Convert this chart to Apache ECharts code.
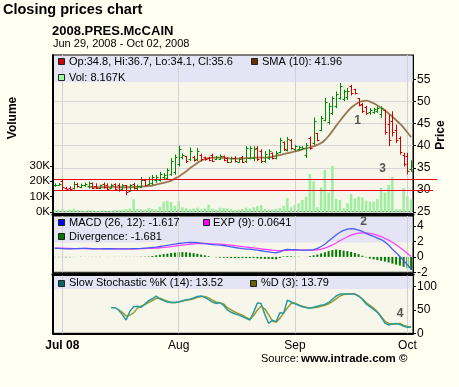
<!DOCTYPE html>
<html>
<head>
<meta charset="utf-8">
<script src="https://cdn.jsdelivr.net/npm/echarts@6.0.0/dist/echarts.min.js"></script>
<style>
html,body{margin:0;padding:0;background:#fffff2;}
#chart{width:459px;height:387px;}
</style>
</head>
<body>
<div id="chart"></div>
<script>
// ---------------- data ----------------
const dates = ['6/29','6/30',
 '7/1','7/2','7/3','7/4','7/5','7/6','7/7','7/8','7/9','7/10','7/11','7/12','7/13','7/14','7/15','7/16','7/17','7/18','7/19','7/20','7/21','7/22','7/23','7/24','7/25','7/26','7/27','7/28','7/29','7/30','7/31',
 '8/1','8/2','8/3','8/4','8/5','8/6','8/7','8/8','8/9','8/10','8/11','8/12','8/13','8/14','8/15','8/16','8/17','8/18','8/19','8/20','8/21','8/22','8/23','8/24','8/25','8/26','8/27','8/28','8/29','8/30','8/31',
 '9/1','9/2','9/3','9/4','9/5','9/6','9/7','9/8','9/9','9/10','9/11','9/12','9/13','9/14','9/15','9/16','9/17','9/18','9/19','9/20','9/21','9/22','9/23','9/24','9/25','9/26','9/27','9/28','9/29','9/30',
 '10/1','10/2'];

const opens = [31.0,31.2,32.0,30.5,30.4,30.4,31.3,30.7,31.0,30.8,
 31.5,30.8,30.4,31.4,31.2,30.4,31.3,31.2,30.2,31.0,
 29.8,31.4,30.4,30.6,32.3,31.3,31.6,32.2,32.2,32.9,
 32.8,33.6,34.0,35.8,37.5,37.6,36.9,37.5,37.0,38.0,
 37.4,37.3,38.0,36.9,36.9,37.6,37.2,36.4,37.3,36.4,
 37.5,36.5,37.3,37.2,39.6,38.8,36.6,37.3,38.3,37.3,
 38.5,40.8,39.0,41.4,39.2,39.3,39.2,37.8,41.8,40.6,
 42.8,43.6,45.8,45.4,47.5,48.9,50.8,50.6,51.0,53.6,
 52.8,50.7,49.5,48.8,47.6,47.6,47.9,47.2,48.0,45.0,
 45.5,43.6,41.8,38.0,37.6,34.8];
const highs = [31.5,31.6,32.4,30.7,30.8,31.9,31.6,31.4,31.6,31.9,
 31.7,31.5,31.2,31.7,31.5,31.4,31.5,31.5,31.3,31.1,
 31.3,31.6,31.2,32.9,32.5,32.9,33.4,33.4,34.1,33.8,
 34.9,37.2,38.0,40.0,38.3,37.7,39.6,37.7,39.5,38.2,
 37.5,37.5,38.2,37.7,38.0,37.8,37.4,37.5,37.6,37.3,
 37.7,39.9,39.9,39.9,39.9,39.2,38.8,39.2,38.5,38.8,
 41.8,41.0,42.0,41.5,40.2,39.9,39.9,40.6,42.1,46.4,
 42.9,46.7,50.8,49.7,51.2,52.3,54.2,52.7,53.1,53.8,
 52.9,50.8,49.7,49.0,48.5,48.6,48.9,48.9,48.2,47.0,
 47.8,44.8,42.1,38.4,38.4,36.7];
const lows = [30.7,30.9,30.0,30.1,30.0,30.1,30.5,30.4,30.7,30.3,
 30.2,30.2,30.2,30.3,29.8,30.3,30.0,29.6,30.0,28.8,
 29.6,30.1,30.0,30.4,30.8,31.0,31.1,31.6,31.9,32.2,
 32.4,33.2,33.4,35.3,36.9,36.1,36.5,36.4,36.5,36.5,
 36.6,36.5,36.3,36.8,36.8,36.5,36.1,36.2,36.2,36.2,
 36.1,36.1,36.9,36.5,36.5,36.1,36.1,36.8,36.9,36.9,
 38.3,38.8,38.7,39.1,38.7,38.9,39.1,37.2,39.1,40.2,
 41.0,43.3,45.5,44.8,47.0,48.5,50.4,50.1,50.4,51.4,
 51.6,48.9,47.4,47.0,47.0,47.2,47.4,46.3,42.5,39.9,
 42.1,40.6,38.0,35.3,33.5,34.1];
const closes = [31.2,31.3,30.6,30.2,30.2,31.3,30.8,31.1,31.3,31.5,
 30.5,30.4,31.0,30.6,30.2,31.1,30.3,30.0,31.0,29.6,
 31.0,30.4,30.9,32.2,31.2,32.5,32.9,33.0,33.6,33.4,
 34.4,36.5,37.4,39.3,38.0,36.6,38.7,36.8,38.9,37.0,
 36.9,36.7,36.6,37.4,37.7,36.8,36.4,37.2,36.5,37.0,
 36.3,39.4,39.5,39.2,37.0,36.5,38.2,38.9,37.2,38.3,
 41.2,39.2,41.5,39.4,39.9,39.7,39.6,40.2,39.6,45.6,
 41.4,46.2,49.9,49.0,50.7,51.8,53.6,52.3,52.4,51.9,
 51.9,49.2,47.8,47.4,48.2,48.3,48.6,48.5,43.2,41.2,
 43.0,41.2,38.6,35.8,34.3,35.6];
// volume in thousands
const volumes = [1.2,1.5,1.8,1.0,1.6,2.0,1.2,1.0,0.8,1.2,
 1.0,0.6,0.8,1.0,0.5,0.7,1.4,1.2,1.6,1.8,
 2.2,8.3,2.0,1.8,1.5,2.5,2.0,1.6,3.5,6.7,
 7.2,6.5,4.0,6.8,3.0,2.5,2.0,2.3,2.8,1.8,
 2.5,4.8,2.2,1.5,2.8,2.6,2.4,1.8,1.2,1.6,
 2.0,2.8,2.3,3.0,3.8,4.4,2.0,1.5,1.7,2.1,
 2.5,4.0,9.0,3.0,4.5,5.6,7.8,10.0,24.7,20.0,
 3.0,16.0,27.3,12.6,30.0,8.5,7.8,2.4,5.6,11.7,
 8.9,10.0,9.5,7.4,6.7,6.7,8.5,15.8,12.6,17.5,
 22.9,1.9,1.9,15.5,10.0,8.167];
const sma10 = [null,null,null,null,null,null,null,null,null,30.7,
 30.7,30.6,30.6,30.6,30.6,30.7,30.7,30.6,30.6,30.6,
 30.6,30.7,30.7,30.8,30.8,30.9,31.0,31.2,31.4,31.6,
 31.8,32.1,32.6,33.0,33.6,34.2,34.9,35.5,36.1,36.6,
 37.0,37.2,37.3,37.3,37.3,37.2,37.2,37.1,37.1,37.1,
 37.1,37.2,37.2,37.3,37.3,37.3,37.3,37.4,37.5,37.7,
 37.9,38.1,38.3,38.5,38.7,38.9,39.2,39.4,39.6,39.9,
 40.2,40.6,41.3,42.2,43.3,44.5,45.6,46.7,47.7,48.6,
 49.3,49.8,50.1,50.2,50.0,49.6,49.1,48.6,48.0,47.3,
 46.6,45.8,45.0,44.1,43.0,41.96];
const macd = [1.12,1.10,1.08,1.05,1.05,1.07,1.08,1.10,1.10,1.08,
 1.06,1.05,1.05,1.06,1.07,1.06,1.05,1.04,1.04,1.03,
 1.04,1.06,1.08,1.10,1.14,1.18,1.22,1.28,1.35,1.42,
 1.50,1.58,1.66,1.74,1.80,1.85,1.87,1.87,1.85,1.80,
 1.72,1.65,1.60,1.55,1.52,1.48,1.40,1.30,1.22,1.15,
 1.08,1.02,1.00,0.95,0.88,0.80,0.72,0.65,0.58,0.52,
 0.65,0.88,0.96,0.95,0.93,0.90,0.88,0.87,0.87,0.95,
 1.10,1.35,1.65,2.05,2.45,2.85,3.20,3.45,3.60,3.68,
 3.62,3.48,3.30,3.05,2.82,2.65,2.45,2.25,1.95,1.55,
 1.00,0.55,0.05,-0.45,-1.00,-1.617];
const expSignal = [1.14,1.13,1.12,1.10,1.09,1.08,1.08,1.08,1.09,1.09,
 1.08,1.07,1.07,1.06,1.06,1.06,1.06,1.05,1.05,1.05,
 1.05,1.05,1.06,1.07,1.08,1.10,1.12,1.15,1.19,1.23,
 1.28,1.34,1.40,1.46,1.53,1.59,1.64,1.69,1.72,1.74,
 1.74,1.72,1.70,1.68,1.65,1.62,1.57,1.52,1.46,1.40,
 1.34,1.28,1.22,1.17,1.11,1.05,0.99,0.93,0.87,0.83,
 0.80,0.82,0.85,0.87,0.88,0.88,0.88,0.88,0.88,0.89,
 0.93,1.01,1.14,1.32,1.55,1.81,2.09,2.36,2.61,2.82,
 2.98,3.08,3.12,3.11,3.05,2.97,2.80,2.62,2.42,2.18,
 1.90,1.58,1.22,0.85,0.45,0.0641];
const divergence = [-0.02,-0.03,-0.04,-0.05,-0.04,-0.01,0,0.02,0.01,-0.01,
 -0.02,-0.02,-0.02,0,0.01,0,-0.01,-0.01,-0.01,-0.02,
 -0.01,0.01,0.02,0.03,0.04,0.05,0.12,0.2,0.28,0.35,
 0.42,0.5,0.55,0.6,0.62,0.6,0.55,0.48,0.4,0.3,
 0.2,0.1,0,-0.05,-0.1,-0.1,-0.12,-0.15,-0.16,-0.16,
 -0.15,-0.15,-0.14,-0.15,-0.18,-0.22,-0.25,-0.27,-0.28,-0.3,
 -0.15,0.06,0.11,0.08,0.05,0.02,0,-0.01,0.1,0.2,
 0.3,0.45,0.6,0.75,0.88,0.95,0.9,0.82,0.75,0.65,
 0.5,0.35,0.15,-0.06,-0.22,-0.32,-0.42,-0.5,-0.6,-0.72,
 -0.87,-1.0,-1.12,-1.28,-1.48,-1.681];
const stochK = [null,null,null,null,null,null,null,null,null,null,
 null,null,null,null,null,55,55,50,40,28.5,
 47,57,58,56,62,70,74,80,74,70,
 67,66,66,67,70,72,73,76,79,80,
 77,72,67,64,66,60,50,45,42,39,
 36,32,28.5,45,65,64,40,21.4,28,25,
 44,43,71,67,63,60,57,55,54,56,
 58,60,62,66,73,80,84,84,84,84,
 84,80,73,63,57,51,45,35,22,18,
 20,21,19,15,13,13.52];
const stochD = [null,null,null,null,null,null,null,null,null,null,
 null,null,null,null,null,null,null,50,45,37,
 39,44,54,58,62,66,70,75,75,72,
 69,66,66,67,69,71,72,74,77,79,
 79,76,71,67,65,63,55,50,46,42,
 39,34,30,38,50,58,52,40,26,24,
 32,44,54,64,65,61,58,56,54,55,
 56,58,60,63,68,74,80,83,84,84,
 84,80,74,66,60,54,46,36,26,21,
 20,20,21,17,14.5,13.79];
const priceTicks = [25,30,35,40,45,50,55];
const volumeTicks = [0,10,20,30];
const macdTicks = [-2,0,2,4];
const stochTicks = [0,50,100];
const refLevels = [32.4, 29.9];
const monthLabels = {'7/1':'Jul 08','8/1':'Aug','9/1':'Sep','10/1':'Oct'};
const monthKeys = Object.keys(monthLabels);

// ---------------- chart ----------------
const F = "'Liberation Sans', Arial, Helvetica, sans-serif";
const chart = echarts.init(document.getElementById('chart'), null, {renderer:'canvas'});
const UP = '#008a00', DOWN = '#d40000';
const plotBg = '#f7f6ea';

function renderOHLC(params, api){
  const i = api.value(0);
  const o = api.value(1), h = api.value(2), l = api.value(3), c = api.value(4);
  const pO = api.coord([i,o]), pH = api.coord([i,h]), pL = api.coord([i,l]), pC = api.coord([i,c]);
  const x = Math.round(pO[0]) + 0.5;
  const col = c >= o ? UP : DOWN;
  const st = {stroke: col, lineWidth: 1};
  return {type:'group', children:[
    {type:'line', shape:{x1:x, y1:pH[1], x2:x, y2:pL[1]}, style:st},
    {type:'line', shape:{x1:x-2, y1:Math.round(pO[1])+0.5, x2:x, y2:Math.round(pO[1])+0.5}, style:st},
    {type:'line', shape:{x1:x, y1:Math.round(pC[1])+0.5, x2:x+2, y2:Math.round(pC[1])+0.5}, style:st}
  ]};
}

const vLines = {
  silent:true, symbol:['none','none'], label:{show:false},
  lineStyle:{color:'#d2d2d2', width:1, type:'solid'},
  emphasis:{disabled:true},
  data: monthKeys.map(k => ({xAxis:k}))
};

function catAxis(gi, extra){
  return Object.assign({
    type:'category', gridIndex:gi, data:dates, boundaryGap:true,
    axisTick:{show:false}, axisLabel:{show:false}, splitLine:{show:false}
  }, extra);
}

const option = {
  animation:false,
  backgroundColor:'#fffff2',
  textStyle:{fontFamily:F},
  grid:[
    {left:53, top:55, width:360, height:157, show:true, backgroundColor:plotBg, borderColor:'#000', borderWidth:1},
    {left:53, top:216, width:360, height:56.3, show:true, backgroundColor:plotBg, borderColor:'#000', borderWidth:1},
    {left:53, top:275.5, width:360, height:57.8, show:true, backgroundColor:plotBg, borderColor:'#000', borderWidth:1}
  ],
  xAxis:[
    catAxis(0, {axisLine:{show:true, onZero:false, lineStyle:{color:'#000', width:3}}, offset:2.5}),
    catAxis(1, {axisLine:{show:true, onZero:false, lineStyle:{color:'#000', width:3}}, offset:1.5}),
    catAxis(2, {axisLine:{show:true, onZero:false, lineStyle:{color:'#000', width:2}}, offset:0,
      axisLabel:{show:true, margin:6, color:'#000', fontSize:12, fontFamily:F,
        interval:(idx, val) => monthLabels[val] !== undefined,
        formatter:(val) => val === '7/1' ? '{b|' + monthLabels[val] + '}' : (monthLabels[val] || ''),
        rich:{b:{fontWeight:'bold', fontSize:12, fontFamily:F, color:'#000'}}
      }})
  ],
  yAxis:[
    {type:'value', gridIndex:0, position:'right', min:25, max:60.54, interval:5,
      axisLine:{show:true, lineStyle:{color:'#000', width:1}},
      axisTick:{show:true, length:3, customValues:priceTicks, lineStyle:{color:'#000'}},
      axisLabel:{customValues:priceTicks, margin:4, color:'#000', fontSize:12, fontFamily:F},
      splitLine:{show:true, lineStyle:{color:'#d6d6d6', width:1}}},
    {type:'value', gridIndex:0, position:'left', min:0, max:102, interval:10,
      axisLine:{show:true, lineStyle:{color:'#000', width:2}},
      axisTick:{show:true, length:3, customValues:volumeTicks, lineStyle:{color:'#000'}},
      axisLabel:{customValues:volumeTicks, margin:3, color:'#000', fontSize:11.5, fontFamily:F, formatter:v => v + 'K'},
      splitLine:{show:false}},
    {type:'value', gridIndex:1, position:'right', min:-2, max:5.31, interval:2,
      axisLine:{show:true, lineStyle:{color:'#000', width:1}},
      axisTick:{show:true, length:3, customValues:macdTicks, lineStyle:{color:'#000'}},
      axisLabel:{customValues:macdTicks, margin:4, color:'#000', fontSize:12, fontFamily:F},
      splitLine:{show:false}},
    {type:'value', gridIndex:2, position:'right', min:0, max:123.9, interval:50,
      axisLine:{show:true, lineStyle:{color:'#000', width:1}},
      axisTick:{show:true, length:3, customValues:stochTicks, lineStyle:{color:'#000'}},
      axisLabel:{customValues:stochTicks, margin:4, color:'#000', fontSize:12, fontFamily:F},
      splitLine:{show:false}},
    {type:'value', gridIndex:1, position:'left', min:0, max:1, axisLine:{show:true, lineStyle:{color:'#000', width:2}}, axisTick:{show:false}, axisLabel:{show:false}, splitLine:{show:false}},
    {type:'value', gridIndex:2, position:'left', min:0, max:1, axisLine:{show:true, lineStyle:{color:'#000', width:2}}, axisTick:{show:false}, axisLabel:{show:false}, splitLine:{show:false}}
  ],
  series:[
    {name:'Volume', type:'bar', xAxisIndex:0, yAxisIndex:1, z:2, barWidth:2.5,
      itemStyle:{color:'#9cef9c'}, data:volumes, markLine:vLines, silent:true},
    {name:'SMA', type:'line', xAxisIndex:0, yAxisIndex:0, z:5, smooth:0.3, showSymbol:false, symbol:'none',
      lineStyle:{color:'#9a7650', width:1.8}, data:sma10, silent:true},
    {name:'OHLC', type:'custom', xAxisIndex:0, yAxisIndex:0, z:6, renderItem:renderOHLC,
      encode:{x:0, y:[1,2,3,4]}, silent:true,
      data:dates.map((d,i) => [i, opens[i], highs[i], lows[i], closes[i]])},
    {name:'Divergence', type:'bar', xAxisIndex:1, yAxisIndex:2, z:4, barWidth:2,
      itemStyle:{color:'#007a00'}, data:divergence, markLine:vLines, silent:true},
    {name:'EXP', type:'line', xAxisIndex:1, yAxisIndex:2, z:5, showSymbol:false, symbol:'none',
      lineStyle:{color:'#ff40ff', width:1.3}, data:expSignal, silent:true},
    {name:'MACD', type:'line', xAxisIndex:1, yAxisIndex:2, z:6, showSymbol:false, symbol:'none',
      lineStyle:{color:'#4a5cf0', width:1.3}, data:macd, silent:true},
    {name:'%D', type:'line', xAxisIndex:2, yAxisIndex:3, z:5, showSymbol:false, symbol:'none',
      lineStyle:{color:'#9a9a2e', width:1.5}, data:stochD, markLine:vLines, silent:true},
    {name:'%K', type:'line', xAxisIndex:2, yAxisIndex:3, z:6, showSymbol:false, symbol:'none',
      lineStyle:{color:'#2b9a9a', width:1.5}, data:stochK, silent:true}
  ]
};
chart.setOption(option);

// ---------------- overlays ----------------
function txt(x, y, text, size, o){
  o = o || {};
  const al = o.align || 'left';
  return {type:'text', x:x, y:y, rotation:o.rot || 0, z:20, silent:true,
    style:{text:text, x:0, y:0, font:(o.bold ? 'bold ' : '') + size + 'px ' + F, fill:o.color || '#000',
      align:al, textAlign:al, verticalAlign:'middle', textVerticalAlign:'middle'}};
}
function box(x, y, color){
  return {type:'rect', z:20, silent:true, shape:{x:x + 0.5, y:y + 0.5, width:6, height:6},
    style:{fill:color, stroke:'#222', lineWidth:1}};
}
function band(y, h){
  return {type:'rect', z:3, silent:true, shape:{x:54, y:y, width:358.5, height:h}, style:{fill:'#e4e4f4'}};
}
const g = [];
g.push(band(56, 26), band(217, 25.5), band(276, 13));
refLevels.forEach((v, k) => {
  const y = Math.round(chart.convertToPixel({yAxisIndex:0}, v)) + 0.5;
  g.push({type:'line', z:7, silent:true, shape:{x1:54, y1:y, x2:k === 0 ? 437 : 433, y2:y}, style:{stroke:'#ee0000', lineWidth:1}});
});
g.push(txt(3, 9.5, 'Closing prices chart', 14.5, {bold:true}));
g.push(txt(52, 31, '2008.PRES.McCAIN', 13, {bold:true}));
g.push(txt(53, 44, 'Jun 29, 2008 - Oct 02, 2008', 11));
g.push(box(58, 58, '#cc0000'), txt(69, 62, 'Op:34.8, Hi:36.7, Lo:34.1, Cl:35.6', 11));
g.push(box(58, 74, '#99ff99'), txt(69, 77.5, 'Vol: 8.167K', 11));
g.push(box(251, 58, '#663300'), txt(262, 62, 'SMA (10): 41.96', 11));
g.push(box(58, 219, '#0000ff'), txt(69, 222.5, 'MACD (26, 12): -1.617', 11));
g.push(box(203, 219, '#ff00ff'), txt(213, 222.5, 'EXP (9): 0.0641', 11));
g.push(box(58, 233, '#007700'), txt(69, 236.5, 'Divergence: -1.681', 11));
g.push(box(58, 280, '#006666'), txt(69, 283, 'Slow Stochastic %K (14): 13.52', 11));
g.push(box(250, 280, '#666600'), txt(261, 283, '%D (3): 13.79', 11));
g.push(txt(357.5, 121, '1', 12, {bold:true, color:'#555', align:'center'}));
g.push(txt(363.5, 222, '2', 12, {bold:true, color:'#555', align:'center'}));
g.push(txt(382.5, 169, '3', 12, {bold:true, color:'#555', align:'center'}));
g.push(txt(400, 314, '4', 12, {bold:true, color:'#555', align:'center'}));
g.push(txt(13, 118, 'Volume', 12, {bold:true, align:'center', rot:Math.PI / 2}));
g.push(txt(441, 135, 'Price', 12, {bold:true, align:'center', rot:Math.PI / 2}));
g.push(txt(261, 359, 'Source:', 11));
g.push(txt(301, 359, 'www.intrade.com \u00a9', 11.5, {bold:true}));
chart.setOption({graphic:{elements:g}});
</script>
</body>
</html>
